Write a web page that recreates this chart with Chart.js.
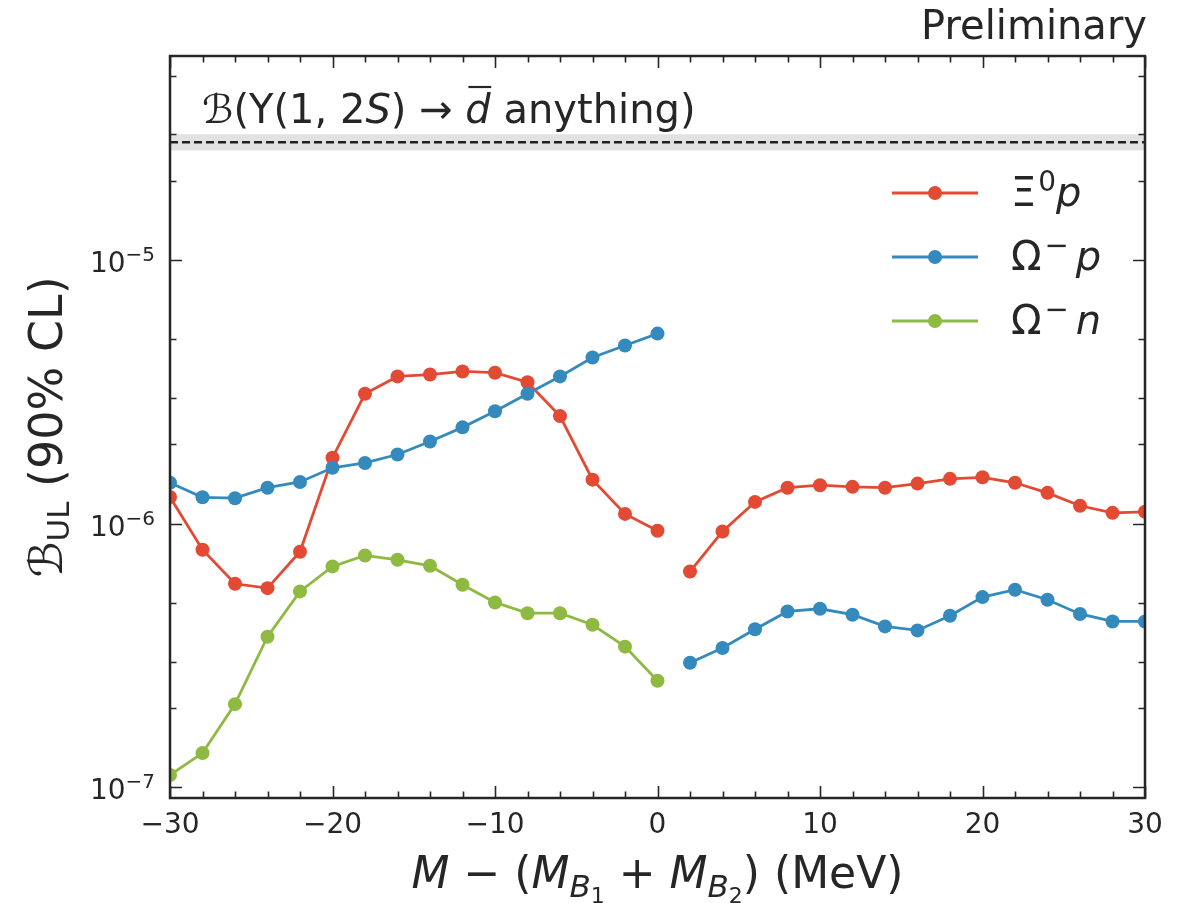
<!DOCTYPE html>
<html>
<head>
<meta charset="utf-8">
<script src="https://cdn.jsdelivr.net/npm/chart.js@4.4.1/dist/chart.umd.min.js"></script>
<style>
  html, body { margin: 0; padding: 0; background: #ffffff; }
  #wrap { width: 1186px; height: 903px; position: relative; }
</style>
</head>
<body>
<div id="wrap"><canvas id="chart" width="1186" height="903"></canvas></div>
<script>
// Mass offset M - (M_B1 + M_B2) in MeV, below and above threshold
const massBelow = [-30, -28, -26, -24, -22, -20, -18, -16, -14, -12, -10, -8, -6, -4, -2, 0];
const massAbove = [2, 4, 6, 8, 10, 12, 14, 16, 18, 20, 22, 24, 26, 28, 30];

// 90% CL upper limits on the branching fraction
const xiPBelow = [1.263e-6, 7.97e-7, 5.92e-7, 5.70e-7, 7.83e-7, 1.78e-6, 3.11e-6, 3.62e-6,
                  3.68e-6, 3.78e-6, 3.74e-6, 3.44e-6, 2.56e-6, 1.47e-6, 1.09e-6, 9.41e-7];
const xiPAbove = [6.59e-7, 9.35e-7, 1.21e-6, 1.37e-6, 1.40e-6, 1.38e-6, 1.37e-6, 1.42e-6,
                  1.48e-6, 1.50e-6, 1.43e-6, 1.31e-6, 1.17e-6, 1.10e-6, 1.11e-6];
const omegaPBelow = [1.43e-6, 1.26e-6, 1.25e-6, 1.37e-6, 1.44e-6, 1.63e-6, 1.70e-6, 1.83e-6,
                     2.05e-6, 2.32e-6, 2.67e-6, 3.11e-6, 3.62e-6, 4.27e-6, 4.74e-6, 5.26e-6];
const omegaPAbove = [2.97e-7, 3.38e-7, 3.98e-7, 4.65e-7, 4.76e-7, 4.52e-7, 4.08e-7, 3.94e-7,
                     4.48e-7, 5.27e-7, 5.62e-7, 5.15e-7, 4.55e-7, 4.26e-7, 4.26e-7];
const omegaNBelow = [1.115e-7, 1.35e-7, 2.07e-7, 3.73e-7, 5.54e-7, 6.89e-7, 7.58e-7, 7.30e-7,
                     6.93e-7, 5.87e-7, 5.03e-7, 4.58e-7, 4.58e-7, 4.14e-7, 3.42e-7, 2.54e-7];

// Inclusive anti-deuteron reference and its uncertainty band
const deuteronRef = 2.8e-5;
const deuteronBand = [2.6e-5, 3.0e-5];

// Axis ranges and ticks
const xRange = [-30, 30];
const yRange = [9.12e-8, 5.94e-5];
const xTicks = [-30, -28, -26, -24, -22, -20, -18, -16, -14, -12, -10, -8, -6, -4, -2,
                0, 2, 4, 6, 8, 10, 12, 14, 16, 18, 20, 22, 24, 26, 28, 30];
const xTickLabels = { '-30': '\u221230', '-20': '\u221220', '-10': '\u221210', '0': '0', '10': '10', '20': '20', '30': '30' };
const yDecades = [-8, -7, -6, -5, -4];
const yMinorSubs = [2, 3, 5];

const seriesColors = ['#E24A33', '#348ABD', '#8EBA42'];
const INK = '#262626';
const FONT = '"DejaVu Sans", "Liberation Sans", sans-serif';

function pts(xs, ys) { return xs.map((x, i) => ({ x: x, y: ys[i] })); }
function joinWithGap(xa, ya, xb, yb) {
  return pts(xa, ya).concat([{ x: 1, y: null }], pts(xb, yb));
}
function fnt(size, italic) { return (italic ? 'italic ' : '') + size + 'px ' + FONT; }

function yTickList() {
  const out = [];
  yDecades.forEach(e => {
    [1].concat(yMinorSubs).forEach(s => {
      const v = s * Math.pow(10, e);
      if (v >= yRange[0] && v <= yRange[1]) out.push({ value: v, major: s === 1, exp: e });
    });
  });
  return out;
}

// rich text helpers: runs of {t, size, italic, dy, bar, kern}
function runsWidth(ctx, runs) {
  let w = 0;
  runs.forEach(r => { ctx.font = fnt(r.size, r.italic); w += ctx.measureText(r.t).width + (r.kern || 0); });
  return w;
}
function drawRuns(ctx, runs, x, y) {
  runs.forEach(r => {
    ctx.font = fnt(r.size, r.italic);
    const w = ctx.measureText(r.t).width;
    ctx.fillText(r.t, x, y + (r.dy || 0));
    if (r.bar) {
      ctx.save();
      ctx.lineWidth = 2.2;
      ctx.strokeStyle = ctx.fillStyle;
      ctx.beginPath();
      ctx.moveTo(x + w * 0.12, y - r.size * 0.9);
      ctx.lineTo(x + w * 1.02, y - r.size * 0.9);
      ctx.stroke();
      ctx.restore();
    }
    x += w + (r.kern || 0);
  });
}

const legendEntries = [
  [{ t: '\u039E', size: 40, kern: 2 }, { t: '0', size: 28, dy: -15 }, { t: 'p', size: 40, italic: true }],
  [{ t: '\u03A9', size: 40, kern: 3 }, { t: '\u2212', size: 29, dy: -15, kern: 7 }, { t: 'p', size: 40, italic: true }],
  [{ t: '\u03A9', size: 40, kern: 3 }, { t: '\u2212', size: 29, dy: -15, kern: 7 }, { t: 'n', size: 40, italic: true }]
];

const framePlugin = {
  id: 'frame',
  afterDraw(chart) {
    const ctx = chart.ctx;
    const a = chart.chartArea;
    const xs = chart.scales.x, ys = chart.scales.y;
    ctx.save();
    ctx.strokeStyle = INK;
    ctx.fillStyle = INK;

    // inward ticks on all four sides
    ctx.lineWidth = 1.6;
    ctx.beginPath();
    xTicks.forEach(v => {
      const px = Math.round(xs.getPixelForValue(v)) + 0.5;
      const len = (v % 10 === 0) ? 12 : 6.5;
      ctx.moveTo(px, a.bottom); ctx.lineTo(px, a.bottom - len);
      ctx.moveTo(px, a.top); ctx.lineTo(px, a.top + len);
    });
    yTickList().forEach(t => {
      const py = Math.round(ys.getPixelForValue(t.value)) + 0.5;
      const len = t.major ? 12 : 6.5;
      ctx.moveTo(a.left, py); ctx.lineTo(a.left + len, py);
      ctx.moveTo(a.right, py); ctx.lineTo(a.right - len, py);
    });
    ctx.stroke();

    // frame
    ctx.lineWidth = 2.5;
    ctx.strokeRect(a.left, a.top, a.right - a.left, a.bottom - a.top);

    // x tick labels
    ctx.textBaseline = 'alphabetic';
    ctx.textAlign = 'center';
    ctx.font = fnt(28);
    xTicks.forEach(v => {
      const lab = xTickLabels[String(v)];
      if (lab) ctx.fillText(lab, xs.getPixelForValue(v), a.bottom + 35);
    });

    // y tick labels: 10^{n}
    ctx.textAlign = 'left';
    yTickList().filter(t => t.major).forEach(t => {
      const py = ys.getPixelForValue(t.value);
      const runs = [{ t: '10', size: 28 }, { t: '\u2212' + Math.abs(t.exp), size: 20, dy: -11 }];
      const w = runsWidth(ctx, runs);
      drawRuns(ctx, runs, a.left - 15 - w, py + 12);
    });

    // axis titles
    const xTitle = [
      { t: 'M', size: 44, italic: true },
      { t: ' \u2212 (', size: 44 },
      { t: 'M', size: 44, italic: true },
      { t: 'B', size: 31, italic: true, dy: 9 },
      { t: '1', size: 22, dy: 15 },
      { t: ' + ', size: 44 },
      { t: 'M', size: 44, italic: true },
      { t: 'B', size: 31, italic: true, dy: 9 },
      { t: '2', size: 22, dy: 15 },
      { t: ') (MeV)', size: 44 }
    ];
    const xcx = (a.left + a.right) / 2;
    drawRuns(ctx, xTitle, xcx - runsWidth(ctx, xTitle) / 2, 888);

    const yTitle = [
      { t: '\u212C', size: 46 },
      { t: 'UL', size: 31, dy: 7 },
      { t: ' (90% CL)', size: 46 }
    ];
    ctx.save();
    ctx.translate(62, (a.top + a.bottom) / 2);
    ctx.rotate(-Math.PI / 2);
    drawRuns(ctx, yTitle, -runsWidth(ctx, yTitle) / 2, 0);
    ctx.restore();

    // reference annotation
    const refText = [
      { t: '\u212C(\u03A5(1, 2', size: 40 },
      { t: 'S', size: 40, italic: true },
      { t: ') \u2192 ', size: 40 },
      { t: 'd', size: 40, italic: true, bar: true },
      { t: ' anything)', size: 40 }
    ];
    drawRuns(ctx, refText, 202, 123);

    // header
    ctx.textAlign = 'right';
    ctx.font = fnt(40);
    ctx.fillText('Preliminary', a.right + 2, 39);
    ctx.textAlign = 'left';

    // legend
    const rows = [193, 257, 321];
    rows.forEach((ry, i) => {
      const col = seriesColors[i];
      ctx.strokeStyle = col;
      ctx.fillStyle = col;
      ctx.lineWidth = 2.8;
      ctx.beginPath(); ctx.moveTo(892, ry); ctx.lineTo(978, ry); ctx.stroke();
      ctx.beginPath(); ctx.arc(935, ry, 7, 0, Math.PI * 2); ctx.fill();
      ctx.fillStyle = INK;
      drawRuns(ctx, legendEntries[i], 1011, ry + 13);
    });
    ctx.restore();
  }
};

function seriesDataset(label, data, color, order) {
  return {
    label: label, data: data, showLine: true, spanGaps: false,
    borderColor: color, backgroundColor: color, borderWidth: 2.8,
    pointRadius: 7, pointBackgroundColor: color, pointBorderWidth: 0,
    pointHoverRadius: 7, clip: 0, order: order
  };
}
function flatDataset(value, extra) {
  return Object.assign({
    data: [{ x: xRange[0], y: value }, { x: xRange[1], y: value }],
    showLine: true, pointRadius: 0, borderWidth: 0, fill: false, clip: 0
  }, extra);
}

new Chart(document.getElementById('chart'), {
  type: 'scatter',
  data: {
    datasets: [
      flatDataset(deuteronBand[1], { label: 'band hi', fill: '+1', backgroundColor: 'rgba(150,150,150,0.28)', borderColor: 'rgba(0,0,0,0)', order: 20 }),
      flatDataset(deuteronBand[0], { label: 'band lo', borderColor: 'rgba(0,0,0,0)', order: 19 }),
      flatDataset(deuteronRef, { label: 'd-bar', borderColor: '#222222', borderWidth: 2.5, borderDash: [8, 4], order: 10 }),
      seriesDataset('\u039E0p', joinWithGap(massBelow, xiPBelow, massAbove, xiPAbove), seriesColors[0], 3),
      seriesDataset('\u03A9-p', joinWithGap(massBelow, omegaPBelow, massAbove, omegaPAbove), seriesColors[1], 2),
      seriesDataset('\u03A9-n', pts(massBelow, omegaNBelow), seriesColors[2], 1)
    ]
  },
  options: {
    responsive: false,
    animation: false,
    devicePixelRatio: 1,
    layout: { padding: { left: 0, right: 41, top: 56, bottom: 0 } },
    plugins: { legend: { display: false }, tooltip: { enabled: false } },
    scales: {
      x: {
        type: 'linear', min: xRange[0], max: xRange[1],
        grid: { display: false }, border: { display: false },
        ticks: { display: false },
        afterBuildTicks: s => { s.ticks = xTicks.map(v => ({ value: v })); },
        afterFit: s => { s.height = 105; }
      },
      y: {
        type: 'logarithmic', min: yRange[0], max: yRange[1],
        grid: { display: false }, border: { display: false },
        ticks: { display: false },
        afterBuildTicks: s => { s.ticks = yTickList().map(t => ({ value: t.value, major: t.major })); },
        afterFit: s => { s.width = 170; }
      }
    }
  },
  plugins: [framePlugin]
});
</script>
</body>
</html>
